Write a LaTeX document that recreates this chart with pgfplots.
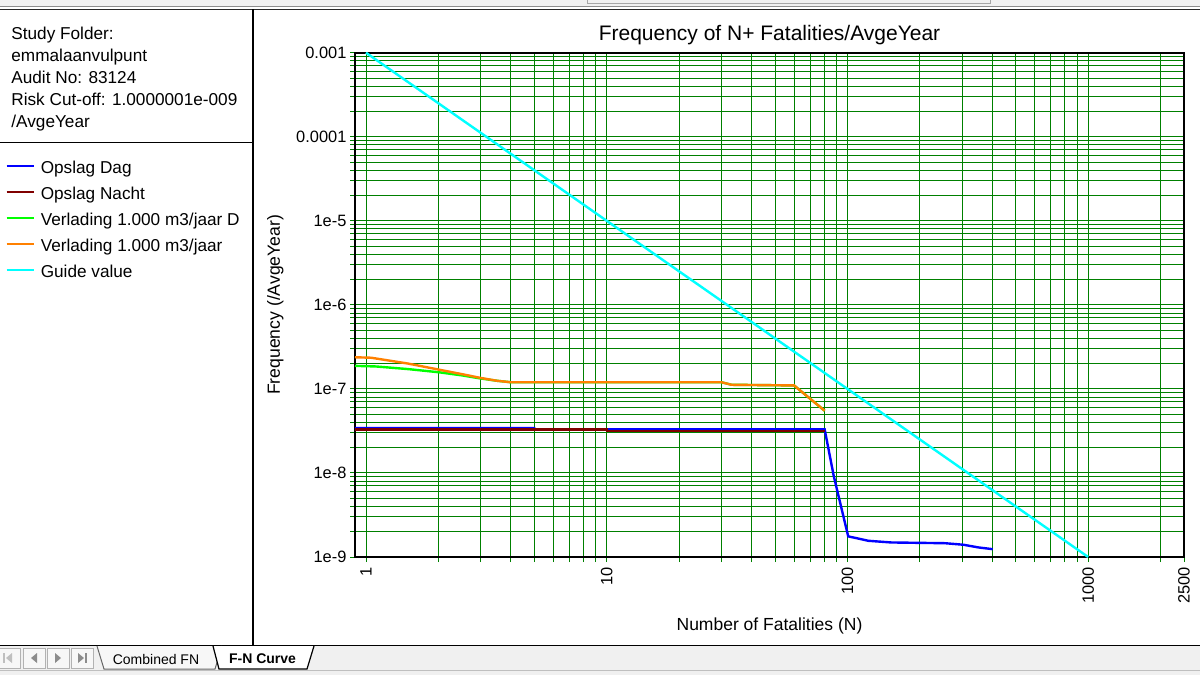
\documentclass[border=0pt]{standalone}
\usepackage{fontspec}
\setmainfont{Liberation Sans}
\usepackage{pgfplots}
\pgfplotsset{compat=1.18}
\definecolor{gridgreen}{RGB}{0,128,0}
\definecolor{cdag}{RGB}{0,0,255}
\definecolor{cnacht}{RGB}{128,0,0}
\definecolor{cvgreen}{RGB}{0,255,0}
\definecolor{corange}{RGB}{255,128,0}
\definecolor{ccyan}{RGB}{0,255,255}
\newcommand{\infofont}{\fontsize{8.6}{11}\selectfont}
\newcommand{\tickfont}{\fontsize{8.2}{10}\selectfont}
\begin{document}
\begin{tikzpicture}[x=0.5pt,y=-0.5pt]
\useasboundingbox (0,0) rectangle (1200,675);
\fill[white] (0,0) rectangle (1200,675);
% top window band
\fill[black!6] (0,0) rectangle (1200,7);
\draw[black!35, line width=0.5pt] (587,-2) rectangle (990,3);
\draw[black!45, line width=0.6pt] (0,6.5) -- (1200,6.5);
\draw[black!85, line width=0.9pt] (0,9.5) -- (1200,9.5);
% left panel separators
\draw[black, line width=1.1pt] (253,9) -- (253,646);
\draw[black, line width=0.8pt] (0,142.5) -- (253,142.5);
% info text
\node[anchor=base west, inner sep=0pt, font=\infofont] at (11,39.3) {Study Folder:};
\node[anchor=base west, inner sep=0pt, font=\infofont] at (11,61.5) {emmalaanvulpunt};
\node[anchor=base west, inner sep=0pt, font=\infofont] at (11,83.5) {Audit No: 83124};
\node[anchor=base west, inner sep=0pt, font=\infofont] at (11,105.3) {Risk Cut-off: 1.0000001e-009};
\node[anchor=base west, inner sep=0pt, font=\infofont] at (11,127.5) {/AvgeYear};

\begin{axis}[
  at={(177.5pt,-278.5pt)}, anchor=south west,
  scale only axis, width=414.5pt, height=252.15pt,
  xmode=log, ymode=log,
  xmin=0.9, xmax=2500, ymin=1e-9, ymax=1e-3,
  axis line style={black, line width=0.8pt},
  xtick={1,10,100,1000,2500},
  xticklabels={1,10,100,1000,2500},
  minor xtick={2,3,4,5,6,7,8,9,20,30,40,50,60,70,80,90,200,300,400,500,600,700,800,900,2000},
  ytick={1e-9,1e-8,1e-7,1e-6,1e-5,1e-4,1e-3},
  yticklabels={1e-9,1e-8,1e-7,1e-6,1e-5,0.0001,0.001},
  minor ytick={2e-9,3e-9,4e-9,5e-9,6e-9,7e-9,8e-9,9e-9,
               2e-8,3e-8,4e-8,5e-8,6e-8,7e-8,8e-8,9e-8,
               2e-7,3e-7,4e-7,5e-7,6e-7,7e-7,8e-7,9e-7,
               2e-6,3e-6,4e-6,5e-6,6e-6,7e-6,8e-6,9e-6,
               2e-5,3e-5,4e-5,5e-5,6e-5,7e-5,8e-5,9e-5,
               2e-4,3e-4,4e-4,5e-4,6e-4,7e-4,8e-4,9e-4},
  grid=both,
  major grid style={gridgreen, line width=0.5pt},
  minor grid style={gridgreen, line width=0.5pt},
  tick align=outside, tick pos=left,
  major tick style={gridgreen, line width=0.5pt},
  minor tick style={gridgreen, line width=0.5pt},
  major tick length=2.5pt, minor tick length=2.5pt,
  xticklabel style={rotate=90, anchor=east, inner sep=0pt, font=\tickfont},
  yticklabel style={anchor=east, inner sep=0pt, font=\tickfont},
  xticklabel shift=2.5pt, yticklabel shift=1.6pt,
  title={Frequency of N+ Fatalities/AvgeYear},
  title style={at={(axis description cs:0.5,1.0014)}, anchor=base, inner sep=0pt, font=\fontsize{10.5}{12}\selectfont},
  xlabel={Number of Fatalities (N)},
  xlabel style={at={(axis description cs:0.5,-0.1467)}, anchor=base, inner sep=0pt, font=\fontsize{8.75}{10}\selectfont},
  ylabel={Frequency (/AvgeYear)},
  ylabel style={at={(axis description cs:-0.0905,0.5)}, anchor=base, inner sep=0pt, font=\fontsize{8.8}{10}\selectfont},
  legend style={at={(axis description cs:-0.4222,0.7892)}, anchor=north west, draw=none, fill=none,
    inner sep=0pt, row sep=0pt, font=\infofont,
    nodes={inner sep=0pt, text height=7pt, text depth=6pt},
    /tikz/every odd column/.append style={column sep=3pt}},
  legend cell align=left,
  legend image code/.code={\draw[#1, line width=1.2pt] (0pt,3.2pt) -- (13.5pt,3.2pt);},
  every axis plot/.append style={line width=1.2pt},
]
\addplot[cdag] coordinates {
 (0.9,3.42e-8) (5,3.42e-8) (5,3.3e-8) (80.4,3.3e-8) (87.7,9.2e-9) (100.7,1.76e-9)
 (110.8,1.66e-9) (122,1.56e-9) (152,1.49e-9) (254,1.46e-9) (303,1.40e-9) (350,1.30e-9) (401,1.24e-9)};
\addlegendentry{Opslag Dag}
\addplot[cnacht] coordinates {
 (0.9,3.3e-8) (10,3.3e-8) (10,3.15e-8) (80.4,3.15e-8)};
\addlegendentry{Opslag Nacht}
\addplot[cvgreen] coordinates {
 (0.9,1.88e-7) (1.1,1.85e-7) (1.5,1.72e-7) (2,1.58e-7) (2.5,1.45e-7) (3,1.33e-7) (3.5,1.25e-7)
 (4,1.2e-7) (30,1.2e-7) (33,1.12e-7) (60,1.1e-7) (80.4,5.5e-8)};
\addlegendentry{Verlading 1.000 m3/jaar D}
\addplot[corange] coordinates {
 (0.9,2.38e-7) (1.05,2.35e-7) (1.5,2.0e-7) (2,1.7e-7) (2.5,1.5e-7) (3,1.35e-7) (3.5,1.25e-7)
 (4,1.2e-7) (30,1.2e-7) (33,1.12e-7) (60,1.1e-7) (80.4,5.5e-8)};
\addlegendentry{Verlading 1.000 m3/jaar}
\addplot[ccyan] coordinates {(1,1e-3) (1000,1e-9)};
\addlegendentry{Guide value}
\end{axis}

% clip of the long legend entry
\fill[white] (238.5,203) rectangle (252,236);

% tab bar
\fill[black!6] (0,646) rectangle (1200,675);
\draw[black, line width=0.8pt] (0,645.5) -- (1200,645.5);
\draw[black!25, line width=0.5pt] (0,670) -- (1200,670);
\foreach \bx in {-2,23,47,71} {
  \draw[black!30, fill=black!3, line width=0.5pt] (\bx,648) rectangle (\bx+22,668);
}
\fill[black!25] (3,653) rectangle (4.5,663);
\fill[black!25] (6,658) -- (12,653) -- (12,663) -- cycle;
\fill[black!45] (31,658) -- (37,653) -- (37,663) -- cycle;
\fill[black!45] (55,653) -- (61,658) -- (55,663) -- cycle;
\fill[black!45] (78,653) -- (84,658) -- (78,663) -- cycle;
\fill[black!45] (85,653) rectangle (86.5,663);
\draw[black!60, fill=black!3, line width=0.5pt] (97,646) -- (104,669) -- (215,669) -- (222,646);
\node[font=\fontsize{7}{8}\selectfont, inner sep=0pt] at (156,659) {Combined FN};
\fill[white] (213,646) -- (219,669) -- (307,669) -- (314,646) -- cycle;
\draw[black, line width=0.6pt] (213,646) -- (219,669) -- (307,669) -- (314,646);
\node[font=\fontsize{7}{8}\selectfont\bfseries, inner sep=0pt] at (262.5,659) {F-N Curve};
\end{tikzpicture}
\end{document}
